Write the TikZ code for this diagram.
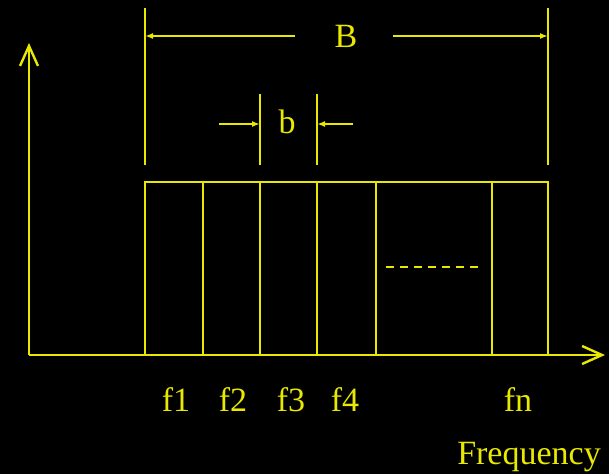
\documentclass[tikz,border=0pt]{standalone}
\usepackage{fontspec}
\setmainfont{Liberation Serif}
\usetikzlibrary{positioning, arrows.meta, calc}
\definecolor{sigyellow}{RGB}{232,232,0}
\tikzset{
  % axis lines
  axis/.style={
    draw=sigyellow, line width=2pt,
    -{Straight Barb[length=20pt, width=18pt, line width=2.4pt]}
  },
  % band outline
  band/.style={draw=sigyellow, line width=2pt},
  % extension lines
  extline/.style={draw=sigyellow, line width=2pt},
  % dimension arrows
  dimarrow/.style={
    draw=sigyellow, line width=1.8pt,
    -{Latex[length=8pt, width=6pt]}
  },
  lbl/.style={text=sigyellow, font=\fontsize{34}{34}\selectfont, inner sep=0pt},
}

\begin{document}
\begin{tikzpicture}[x=1pt, y=-1pt]
  \fill[black] (0,0) rectangle (609,474);
  \useasboundingbox (0,0) rectangle (609,474);

  %% -- Axes --
  \coordinate (origin) at (29,355);
  \coordinate (ytop)   at (29,43);
  \coordinate (xend)   at (605,355);
  \draw[axis] (origin) -- (ytop);
  \draw[axis] (origin) -- (xend);

  %% -- Channel band --
  \coordinate (bandSW) at (145,355);
  \coordinate (bandNE) at (548,182);
  \draw[band] (bandSW) rectangle (bandNE);
  \foreach \x in {203,260,317,376,492}
    \draw[band] (\x,182) -- (\x,355);
  \coordinate (dashL) at (386,267);
  \coordinate (dashR) at (481,267);
  \draw[band, dash pattern=on 8pt off 6pt] (dashL) -- (dashR);

  %% -- Total bandwidth B --
  \coordinate (extBL) at (145,8);
  \coordinate (extBLb) at (145,165);
  \coordinate (extBR) at (548,8);
  \coordinate (extBRb) at (548,165);
  \draw[extline] (extBL) -- (extBLb);
  \draw[extline] (extBR) -- (extBRb);
  \node[lbl] (B) at (346,36) {B};
  \coordinate (BLstart) at (295,36);
  \coordinate (BLend)   at (145,36);
  \coordinate (BRstart) at (393,36);
  \coordinate (BRend)   at (548,36);
  \draw[dimarrow] (BLstart) -- (BLend);
  \draw[dimarrow] (BRstart) -- (BRend);

  %% -- Channel bandwidth b --
  \coordinate (extbL)  at (260,94);
  \coordinate (extbLb) at (260,165);
  \coordinate (extbR)  at (317,94);
  \coordinate (extbRb) at (317,165);
  \draw[extline] (extbL) -- (extbLb);
  \draw[extline] (extbR) -- (extbRb);
  \node[lbl] (b) at (287,122) {b};
  \coordinate (bLstart) at (219,124);
  \coordinate (bLend)   at (260,124);
  \coordinate (bRstart) at (353,124);
  \coordinate (bRend)   at (317,124);
  \draw[dimarrow] (bLstart) -- (bLend);
  \draw[dimarrow] (bRstart) -- (bRend);

  %% -- Frequency labels --
  \node[lbl] (f1) at (176,400) {f1};
  \node[lbl] (f2) at (233,400) {f2};
  \node[lbl] (f3) at (291,400) {f3};
  \node[lbl] (f4) at (345,400) {f4};
  \node[lbl] (fn) at (518,400) {fn};
  \node[lbl] (freq) at (529,457) {Frequency};

\end{tikzpicture}
\end{document}
